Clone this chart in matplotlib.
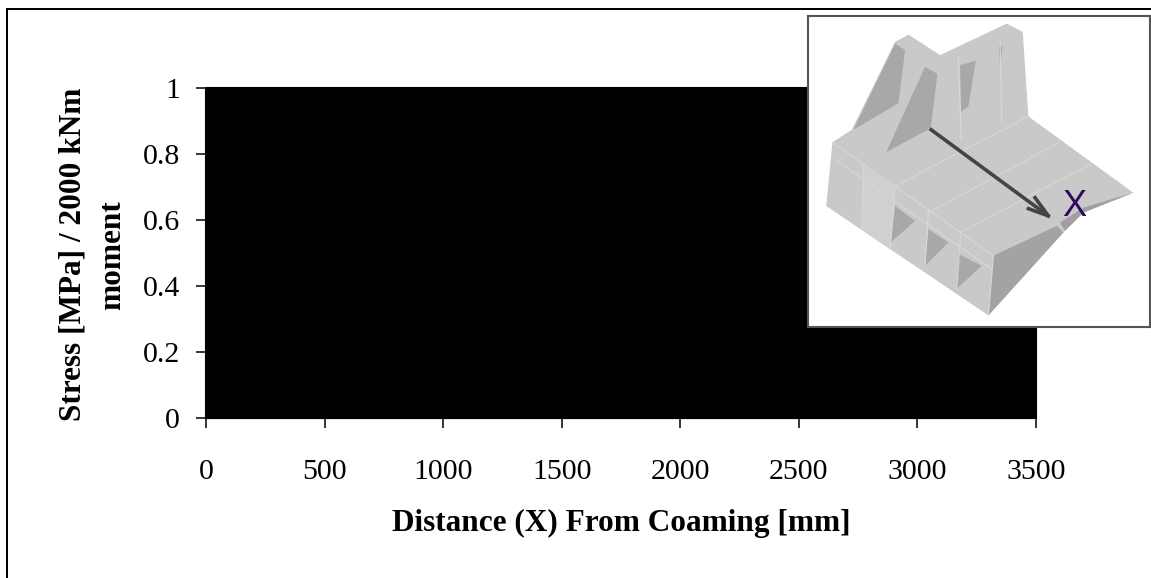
import matplotlib
matplotlib.use("Agg")
import matplotlib.pyplot as plt
from matplotlib.patches import Polygon, Rectangle

W, H = 1151, 578
x_ticks = [0, 500, 1000, 1500, 2000, 2500, 3000, 3500]
y_ticks = [0, 0.2, 0.4, 0.6, 0.8, 1]
y_tick_labels = ["0", "0.2", "0.4", "0.6", "0.8", "1"]
filled_x = [0, 3500]
filled_top = [1, 1]
filled_bottom = [0, 0]
x_label = "Distance (X) From Coaming [mm]"
y_label_1 = "Stress [MPa] / 2000 kNm"
y_label_2 = "moment"

plt.rcParams["font.family"] = ["Liberation Serif", "DejaVu Serif"]
fig = plt.figure(figsize=(W / 100, H / 100), dpi=100, facecolor="white")

def px_box(x0, y0, x1, y1):
    return [x0 / W, 1 - y1 / H, (x1 - x0) / W, (y1 - y0) / H]

# outer frame: only left and top edges are visible
fig.add_artist(Rectangle((6 / W, 0), 1.6 / W, 1 - 8 / H, transform=fig.transFigure, color="black", lw=0))
fig.add_artist(Rectangle((6 / W, 1 - 10 / H), 1 - 6 / W, 2 / H, transform=fig.transFigure, color="black", lw=0))

ax = fig.add_axes(px_box(206, 88, 1036, 418))
ax.set_xlim(0, 3500)
ax.set_ylim(0, 1)
ax.fill_between(filled_x, filled_bottom, filled_top, color="black", lw=1.5, clip_on=False)
ax.set_xticks(x_ticks)
ax.set_yticks(y_ticks, y_tick_labels)
ax.tick_params(axis="both", length=7.2, width=1.1, labelsize=21.5, color="black")
ax.tick_params(axis="x", pad=22.5)
ax.tick_params(axis="y", pad=11.5)
for s in ("top", "right"):
    ax.spines[s].set_visible(False)

fig.text(621 / W, 1 - 523 / H, x_label, ha="center", va="center", fontsize=22.5, fontweight="bold")
fig.text(73 / W, 1 - 254 / H, y_label_1, rotation=90, ha="center", va="center", fontsize=22.5, fontweight="bold")
fig.text(113 / W, 1 - 255 / H, y_label_2, rotation=90, ha="center", va="center", fontsize=22.5, fontweight="bold")

# inset picture, outlined in the zoomed-crop coordinates of the reference
ins = fig.add_axes(px_box(807.5, 16, 1150, 327), zorder=5)
ins.set_xlim(22, 1050)
ins.set_ylim(985, 47)
ins.set_xticks([])
ins.set_yticks([])
ins.set_facecolor("white")
for s in ins.spines.values():
    s.set_color("#555555")
    s.set_linewidth(1.5)

LIGHT, DARK = "#c9c9c9", "#a8a8a8"
shapes = [
    ([(97,428),(155,390),(285,125),(325,103),(420,165),(620,70),(668,95),(685,350),(1000,580),(850,640),(790,700),(565,950),(270,750),(78,620)], LIGHT),
    ([(190,500),(285,565),(270,750),(185,690)], "#d0d0d0"),
    ([(285,130),(315,150),(295,310),(160,390)], DARK),
    ([(375,200),(412,222),(392,385),(258,458)], DARK),
    ([(480,195),(527,182),(505,320),(483,335)], DARK),
    ([(597,140),(607,135),(600,215)], DARK),
    ([(285,620),(345,665),(272,730)], DARK),
    ([(385,690),(445,730),(375,800)], DARK),
    ([(475,765),(545,800),(470,870)], DARK),
    ([(580,770),(770,680),(790,700),(565,950)], "#a3a3a3"),
    ([(780,670),(850,625),(1000,580),(850,640),(795,695)], "#a0a0a0"),
]
for pts, col in shapes:
    ins.add_patch(Polygon(pts, closed=True, facecolor=col, edgecolor="none"))

seams = [
    [(97,428),(580,770)], [(105,480),(575,810)],
    [(285,560),(685,350)], [(385,640),(775,430)], [(480,700),(870,495)],
    [(190,500),(185,690)], [(285,565),(270,750)], [(385,630),(375,800)], [(482,700),(470,870)],
    [(580,770),(565,950)], [(475,170),(483,420)], [(600,120),(605,370)],
]
for seg in seams:
    xs, ys = zip(*seg)
    ins.plot(xs, ys, color="#d8d8d8", lw=0.8)

ins.plot([393, 745], [390, 650], color="#444444", lw=2.6)
ins.plot([705, 745, 685], [595, 650, 628], color="#444444", lw=2.6)
ins.text(822, 622, "X", color="#2e0a5a", ha="center", va="center", fontsize=26, family="Liberation Sans")

fig.savefig("out.png", dpi=100)
